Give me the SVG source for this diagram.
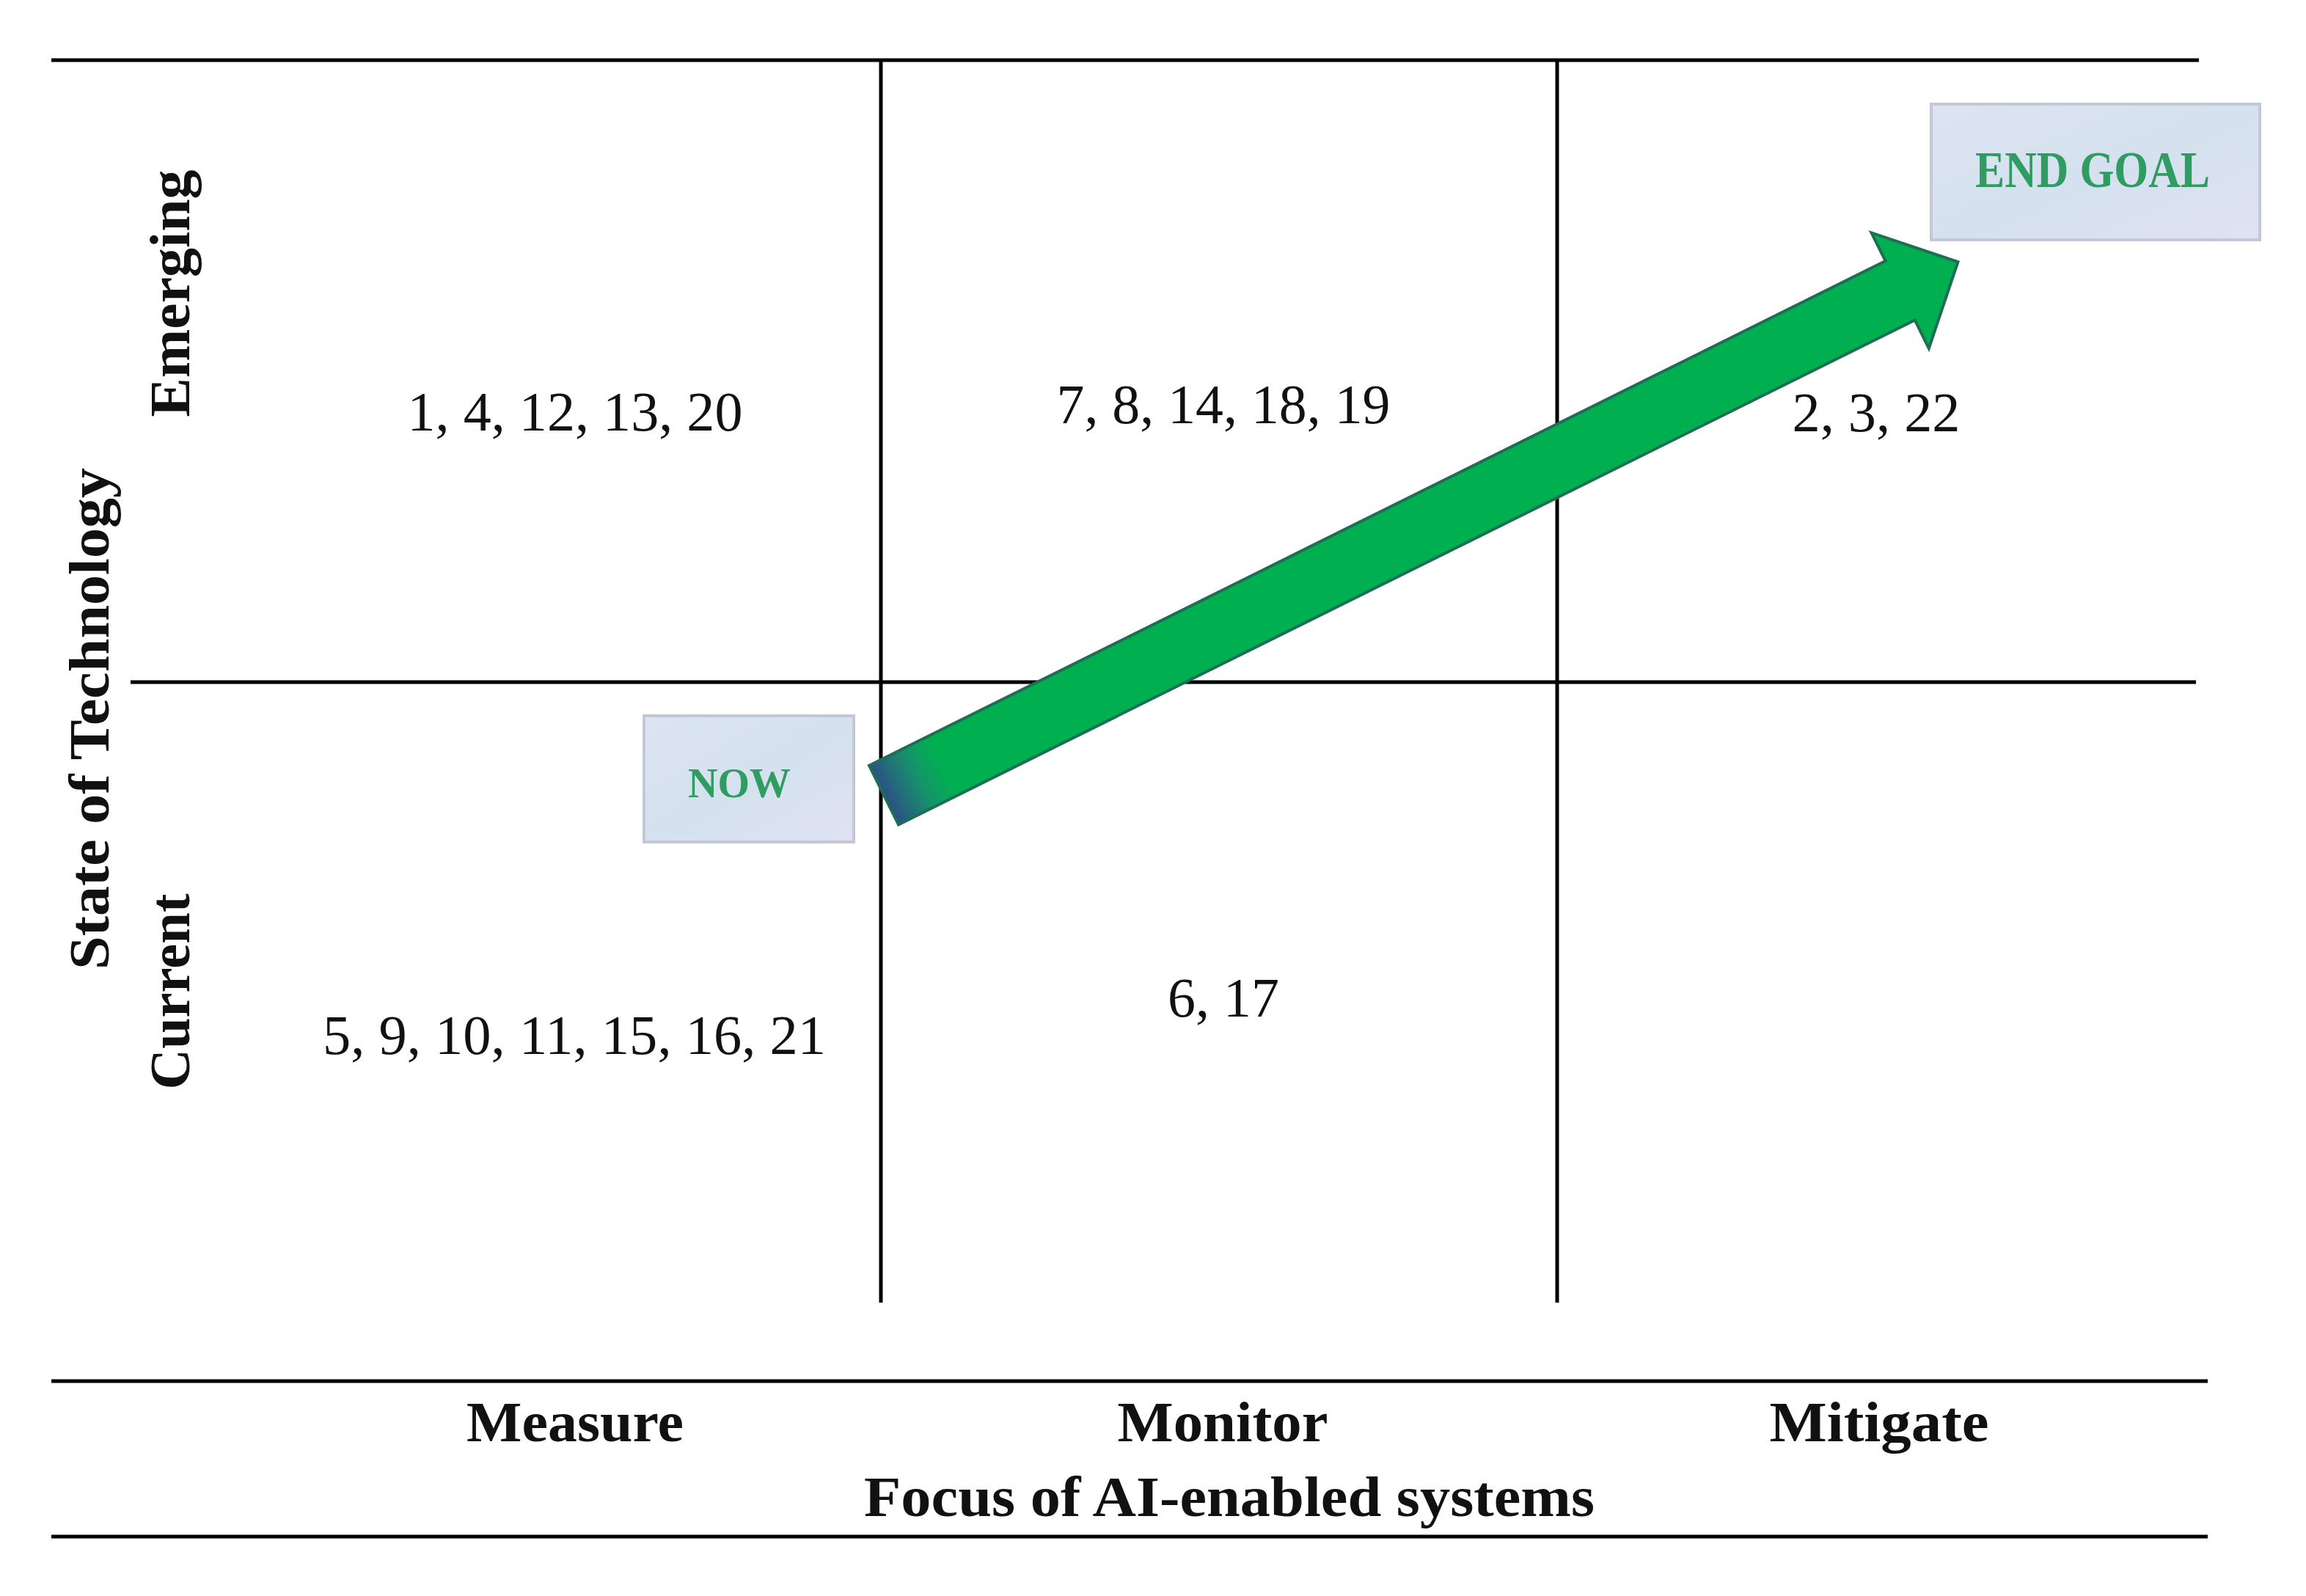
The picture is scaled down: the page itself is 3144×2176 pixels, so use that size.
<svg xmlns="http://www.w3.org/2000/svg" width="3144" height="2176" viewBox="0 0 3144 2176">
<style>
.ln{stroke:#000;stroke-width:5;fill:none}
.num{font-family:"Liberation Serif","DejaVu Serif",serif;font-size:76px;fill:#111;text-anchor:middle}
.ax{font-family:"Liberation Serif","DejaVu Serif",serif;font-size:78px;font-weight:bold;fill:#111;text-anchor:middle}
.box{fill:url(#boxg);stroke:#c4c8d4;stroke-width:4}
.tag{font-family:"Liberation Serif","DejaVu Serif",serif;font-weight:bold;fill:#2f9d62;text-anchor:middle}
</style>
<defs>
<linearGradient id="boxg" x1="0" y1="0" x2="1" y2="1">
<stop offset="0" stop-color="#dde4f2"/>
<stop offset="0.5" stop-color="#d5e1ee"/>
<stop offset="1" stop-color="#dfe2f3"/>
</linearGradient>
<linearGradient id="arrg" gradientUnits="userSpaceOnUse" x1="0" y1="0" x2="90" y2="0">
<stop offset="0" stop-color="#2d4f86"/>
<stop offset="0.6" stop-color="#15946a"/>
<stop offset="1" stop-color="#00b050"/>
</linearGradient>
</defs>
<rect width="3144" height="2176" fill="#fff"/>
<g id="grid">
<line class="ln" x1="70" y1="82" x2="2998" y2="82"/>
<line class="ln" x1="178" y1="930" x2="2994" y2="930"/>
<line class="ln" x1="1201" y1="82" x2="1201" y2="1776"/>
<line class="ln" x1="2123" y1="82" x2="2123" y2="1776"/>
<line class="ln" x1="70" y1="1883" x2="3010" y2="1883"/>
<line class="ln" x1="70" y1="2095" x2="3010" y2="2095"/>
</g>
<g id="cells">
<text class="num" x="784" y="587" textLength="457" lengthAdjust="spacingAndGlyphs">1, 4, 12, 13, 20</text>
<text class="num" x="1668" y="577" textLength="455" lengthAdjust="spacingAndGlyphs">7, 8, 14, 18, 19</text>
<text class="num" x="2558" y="588" textLength="229" lengthAdjust="spacingAndGlyphs">2, 3, 22</text>
<text class="num" x="783" y="1437" textLength="686" lengthAdjust="spacingAndGlyphs">5, 9, 10, 11, 15, 16, 21</text>
<text class="num" x="1668" y="1386" textLength="152" lengthAdjust="spacingAndGlyphs">6, 17</text>
</g>
<g id="axes">
<text class="ax" x="784" y="1965" textLength="296" lengthAdjust="spacingAndGlyphs">Measure</text>
<text class="ax" x="1667" y="1965" textLength="287" lengthAdjust="spacingAndGlyphs">Monitor</text>
<text class="ax" x="2562" y="1965" textLength="299" lengthAdjust="spacingAndGlyphs">Mitigate</text>
<text class="ax" x="1676" y="2067" textLength="996" lengthAdjust="spacingAndGlyphs">Focus of AI-enabled systems</text>
<text class="ax" transform="translate(258,400) rotate(-90)" textLength="337" lengthAdjust="spacingAndGlyphs">Emerging</text>
<text class="ax" transform="translate(148,980) rotate(-90)" textLength="684" lengthAdjust="spacingAndGlyphs">State of Technology</text>
<text class="ax" transform="translate(258,1352) rotate(-90)" textLength="267" lengthAdjust="spacingAndGlyphs">Current</text>
</g>
<g id="connectors">
<g transform="translate(1205,1084) rotate(-26.4)">
<polygon points="0,-45 1547,-45 1547,-88 1635,0 1547,88 1547,45 0,45" fill="url(#arrg)" stroke="#1e6e55" stroke-width="4" stroke-linejoin="miter"/>
</g>
</g>
<g id="now">
<rect class="box" x="878" y="976" width="286" height="172"/>
<text class="tag" x="1008" y="1087" font-size="56">NOW</text>
</g>
<g id="endgoal">
<rect class="box" x="2633" y="142" width="448" height="185"/>
<text class="tag" x="2853" y="255" font-size="70" textLength="320" lengthAdjust="spacingAndGlyphs">END GOAL</text>
</g>
</svg>
